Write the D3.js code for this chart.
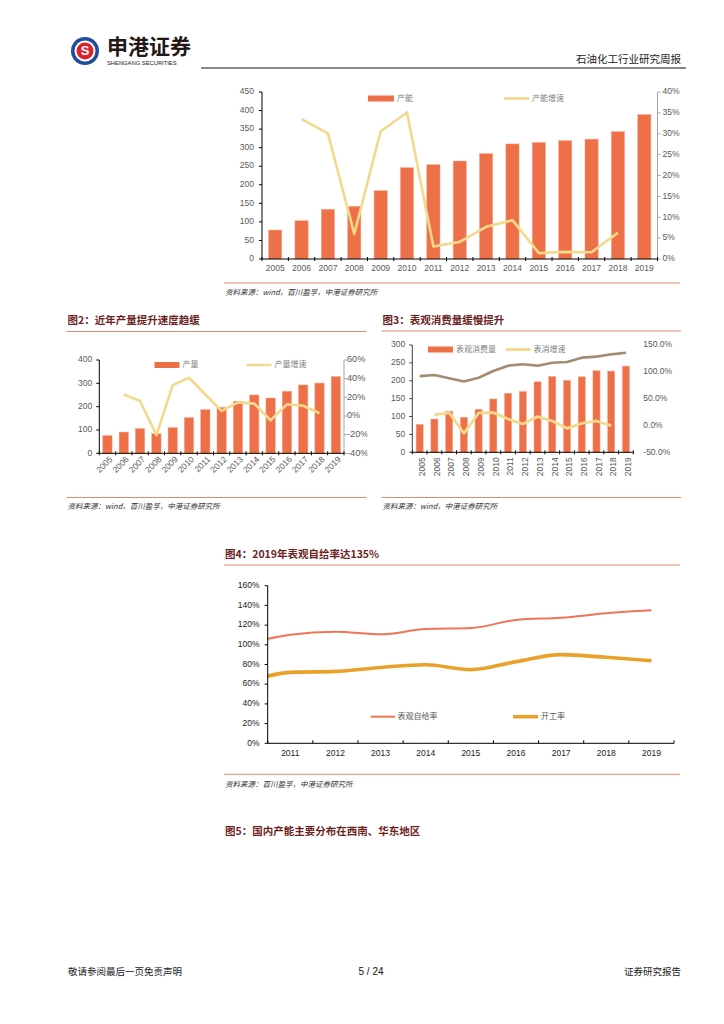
<!DOCTYPE html>
<html><head><meta charset="utf-8">
<script src="https://cdn.jsdelivr.net/npm/d3@7/dist/d3.min.js"></script>
<style>
html,body{margin:0;padding:0;background:#fff;}
svg{display:block;}
.num{font-family:"Liberation Sans",Arial,sans-serif;}
.cjk{font-family:"Noto Sans CJK SC","Noto Sans",sans-serif;}
</style></head>
<body>
<svg id="page" width="724" height="1024"></svg>
<script>
// ---------------- DATA ----------------
const years = ["2005","2006","2007","2008","2009","2010","2011","2012","2013","2014","2015","2016","2017","2018","2019"];
// Chart 1: capacity (万吨) and capacity growth (%)
const capacity = [78,103,134,142,184,246,254,264,284,310,314,319,323,343,389];
const capacityGrowth = [null,33.5,30.1,6.0,30.6,35.1,3.0,4.1,7.7,9.3,1.4,1.7,1.6,6.3,null];
// Chart 2: output and output growth (%)
const output = [76,91,106,84,110,153,187,197,223,250,237,266,293,301,329];
const outputGrowth = [null,23,16,-20.5,33,41,23,5.4,14.6,13.2,-4.6,12.5,11,2.9,null];
// Chart 3: apparent consumption, growth (%), self-sufficiency ratio (%)
const consumption = [78,93,115,98,120,149,165,170,197,212,201,211,228,227,241];
const consumptionGrowth = [null,19.6,23.9,-14.6,23.3,23.9,12.1,2.8,16.5,8.4,-5.3,4,8.4,-0.3,null];
const selfRatio = [92,94,88,82,89,101.6,111.5,114,111.5,117,118.3,126.4,128.3,132.6,135.7];
// Chart 4: (2010 point lies outside the left edge and is clipped)
const years4 = ["2010","2011","2012","2013","2014","2015","2016","2017","2018","2019"];
const selfSufficiency = [100.7,110.3,113.3,110.6,116,117,125.2,127.5,132,135];
const utilization = [61.2,72,73,77,79.8,74.8,82.9,90,87.3,83.9];
// Tick labels
const ticks1L = [0,50,100,150,200,250,300,350,400,450];
const ticks1R = [0,5,10,15,20,25,30,35,40];
const ticks2L = [0,100,200,300,400];
const ticks2R = [-40,-20,0,20,40,60];
const ticks3L = [0,50,100,150,200,250,300];
const ticks3R = [-50,0,50,100,150];
const ticks4 = [0,20,40,60,80,100,120,140,160];

// ---------------- STYLE ----------------
const BAR = "#EE7048", YEL = "#F2D98C", BROWN = "#A48C72";
const RED4 = "#F07455", GOLD4 = "#E9A129";
const TITLE = "#6E1F1F", SEP = "#DC8C74", LBL = "#595959";
const svg = d3.select("#page");
const defs = svg.append("defs");

function text(g, x, y, s, opts={}) {
  const t = g.append("text").attr("x", x).attr("y", y).text(s)
    .attr("class", opts.cls || "cjk")
    .attr("font-size", opts.size || 9)
    .attr("fill", opts.fill || "#000")
    .attr("text-anchor", opts.anchor || "start")
    .attr("dominant-baseline", opts.base || "middle");
  if (opts.weight) t.attr("font-weight", opts.weight);
  if (opts.style) t.attr("font-style", opts.style);
  if (opts.transform) t.attr("transform", opts.transform);
  if (opts.ls) t.attr("letter-spacing", opts.ls);
  return t;
}
function hline(g, x1, x2, y, color, w) {
  g.append("line").attr("x1", x1).attr("x2", x2).attr("y1", y).attr("y2", y)
    .attr("stroke", color).attr("stroke-width", w);
}

// ---------------- HEADER ----------------
const hdr = svg.append("g");
hdr.append("circle").attr("cx", 85).attr("cy", 51).attr("r", 14).attr("fill", "#1F4E9E");
hdr.append("circle").attr("cx", 85).attr("cy", 51).attr("r", 10.5).attr("fill", "#fff");
hdr.append("circle").attr("cx", 85).attr("cy", 51).attr("r", 8.5).attr("fill", "#D8232A");
text(hdr, 85, 52, "S", {cls:"num", size:13, weight:"bold", fill:"#fff", anchor:"middle"});
text(hdr, 107, 48, "申港证券", {size:21, weight:"bold", fill:"#231815"});
text(hdr, 107, 63.5, "SHENGANG SECURITIES", {cls:"num", size:5.8, fill:"#231815"});
text(hdr, 681, 60, "石油化工行业研究周报", {size:10.5, fill:"#222", anchor:"end"});
hline(hdr, 201, 686, 68, "#111", 1.2);

// ---------------- generic combo chart ----------------
function comboChart(cfg) {
  const g = svg.append("g");
  const clipId = "clip" + cfg.id;
  defs.append("clipPath").attr("id", clipId).append("rect")
    .attr("x", cfg.clip[0]).attr("y", cfg.clip[1]).attr("width", cfg.clip[2]).attr("height", cfg.clip[3]);
  g.attr("clip-path", `url(#${clipId})`);
  const x = d3.scaleBand().domain(years).range([cfg.x0, cfg.x1]).paddingInner(cfg.pad).paddingOuter(cfg.pad/2);
  const yL = d3.scaleLinear().domain(cfg.domL).range([cfg.yb, cfg.yt]);
  const yR = d3.scaleLinear().domain(cfg.domR).range([cfg.yb, cfg.yt]);
  // bars
  g.selectAll(".bar").data(cfg.bars).join("rect")
    .attr("x", (d,i) => x(years[i])).attr("width", x.bandwidth())
    .attr("y", d => yL(d)).attr("height", d => yL(0) - yL(d))
    .attr("fill", BAR).attr("stroke", "#F6A487").attr("stroke-width", 0.5);
  // lines
  cfg.lines.forEach(L => {
    const pts = L.data.map((v,i) => v == null ? null : [x(years[i]) + x.bandwidth()/2, yR(v)]).filter(p => p);
    g.append("path").attr("d", d3.line()(pts)).attr("fill", "none")
      .attr("stroke", L.color).attr("stroke-width", L.width).attr("stroke-linejoin", "round");
  });
  // left axis
  g.append("line").attr("x1", cfg.x0).attr("x2", cfg.x0).attr("y1", cfg.yt).attr("y2", cfg.yb)
    .attr("stroke", cfg.leftAxisColor || "#000").attr("stroke-width", 1);
  cfg.ticksL.forEach(t => {
    g.append("line").attr("x1", cfg.x0 - 3).attr("x2", cfg.x0).attr("y1", yL(t)).attr("y2", yL(t))
      .attr("stroke", cfg.leftAxisColor || "#000");
    text(g, cfg.x0 - cfg.lblGapL, yL(t), cfg.fmtL(t), {cls:"num", size:cfg.fs, fill:LBL, anchor:"end"});
  });
  // right axis
  if (cfg.rightAxis) {
    g.append("line").attr("x1", cfg.x1).attr("x2", cfg.x1).attr("y1", cfg.yt).attr("y2", cfg.yb)
      .attr("stroke", "#A6A6A6").attr("stroke-width", 1);
  }
  cfg.ticksR.forEach(t => {
    if (cfg.rightAxis) g.append("line").attr("x1", cfg.x1).attr("x2", cfg.x1 + 3).attr("y1", yR(t)).attr("y2", yR(t))
      .attr("stroke", "#A6A6A6");
    text(g, cfg.x1 + cfg.lblGapR, yR(t), cfg.fmtR(t), {cls:"num", size:cfg.fsR || cfg.fs, fill:LBL});
  });
  // x axis
  g.append("line").attr("x1", cfg.x0).attr("x2", cfg.x1).attr("y1", cfg.yb).attr("y2", cfg.yb)
    .attr("stroke", "#000").attr("stroke-width", 1);
  const step = x.step();
  d3.range(years.length + 1).forEach(i => {
    const xx = cfg.x0 + i * step;
    g.append("line").attr("x1", xx).attr("x2", xx).attr("y1", cfg.yb - 2).attr("y2", cfg.yb + 2).attr("stroke", "#000");
  });
  years.forEach(yr => {
    const cx = x(yr) + x.bandwidth()/2;
    if (cfg.rot === 0) {
      text(g, cx, cfg.yb + cfg.lblGapX, yr, {cls:"num", size:cfg.fs, fill:LBL, anchor:"middle"});
    } else {
      const ly = cfg.yb + cfg.lblGapX;
      text(g, cx + cfg.rotDx, ly, yr, {cls:"num", size:cfg.fs, fill:LBL, anchor:"end",
        transform:`rotate(${cfg.rot},${cx + cfg.rotDx},${ly})`});
    }
  });
  // legend
  cfg.legend.forEach(lg => {
    if (lg.type === "rect") {
      g.append("rect").attr("x", lg.x).attr("y", lg.y - 3).attr("width", lg.w).attr("height", 6).attr("fill", BAR);
    } else {
      g.append("line").attr("x1", lg.x).attr("x2", lg.x + lg.w).attr("y1", lg.y).attr("y2", lg.y)
        .attr("stroke", lg.color).attr("stroke-width", lg.lw);
    }
    text(g, lg.x + lg.w + 3, lg.y, lg.label, {size:8, fill:"#7F7F7F"});
  });
}

function titleBlock(x1, x2, yTitle, yLine, title) {
  text(svg, x1 + 1, yTitle, title, {size:10.5, weight:"bold", fill:TITLE});
  hline(svg, x1, x2, yLine, SEP, 1);
}
function sourceBlock(x1, x2, yLine, yText, s) {
  hline(svg, x1, x2, yLine, SEP, 1);
  text(svg, x1 + 1, yText, s, {size:7.5, fill:"#333", style:"italic"});
}

// ---------------- CHART 1 ----------------
comboChart({
  id:1, clip:[200,80,500,200],
  x0:262, x1:657.5, yt:92, yb:259, pad:0.5,
  domL:[0,450], domR:[0,40], bars:capacity,
  lines:[{data:capacityGrowth, color:YEL, width:2.6}],
  ticksL:ticks1L, ticksR:ticks1R, fmtL:d=>d, fmtR:d=>d+"%",
  lblGapL:8, lblGapR:5, rightAxis:true, fs:8.5,
  rot:0, lblGapX:10,
  legend:[{type:"rect", x:368, y:98.5, w:26, label:"产能"},
          {type:"line", x:504, y:98.5, w:25, color:YEL, lw:2.6, label:"产能增速"}]
});
sourceBlock(224, 680, 283, 293, "资料来源：wind，百川盈孚，中港证券研究所");

// ---------------- CHART 2 ----------------
titleBlock(66.5, 366.5, 321.5, 331.5, "图2：近年产量提升速度趋缓");
comboChart({
  id:2, clip:[60,340,307.5,140],
  x0:99.3, x1:344, yt:360, yb:453.3, pad:0.43,
  domL:[0,400], domR:[-40,60], bars:output,
  lines:[{data:outputGrowth, color:YEL, width:2.6}],
  ticksL:ticks2L, ticksR:ticks2R, fmtL:d=>d, fmtR:d=>d+"%",
  lblGapL:7, lblGapR:3, rightAxis:true, fs:8.5, fsR:9.2,
  rot:-45, lblGapX:5, rotDx:4,
  legend:[{type:"rect", x:154.5, y:365, w:25, label:"产量"},
          {type:"line", x:246.5, y:365, w:25, color:YEL, lw:2.6, label:"产量增速"}]
});
sourceBlock(66.5, 366.5, 497.5, 507, "资料来源：wind，百川盈孚，中港证券研究所");

// ---------------- CHART 3 ----------------
titleBlock(381.5, 681, 321.5, 331, "图3：表观消费量缓慢提升");
comboChart({
  id:3, clip:[375,335,320,150],
  x0:412.3, x1:633.3, yt:345, yb:452.3, pad:0.52,
  domL:[0,300], domR:[-50,150], bars:consumption,
  lines:[{data:selfRatio, color:BROWN, width:2.6},{data:consumptionGrowth, color:YEL, width:2.8}],
  ticksL:ticks3L, ticksR:ticks3R, fmtL:d=>d, fmtR:d=>d.toFixed(1)+"%",
  lblGapL:7, lblGapR:10, rightAxis:false, leftAxisColor:"#404040", fs:8.5,
  rot:-90, lblGapX:5, rotDx:3,
  legend:[{type:"rect", x:428, y:349.5, w:25, label:"表观消费量"},
          {type:"line", x:505.5, y:349.5, w:25, color:YEL, lw:2.8, label:"表消增速"}]
});
sourceBlock(381.5, 681, 497.5, 507, "资料来源：wind，中港证券研究所");

// ---------------- CHART 4 ----------------
titleBlock(224, 680, 555, 565, "图4：2019年表观自给率达135%");
(function(){
  const g = svg.append("g");
  const x0 = 267.7, x1 = 674, yt = 585.7, yb = 743.3;
  defs.append("clipPath").attr("id","clip4").append("rect").attr("x",x0).attr("y",yt-10).attr("width",x1-x0).attr("height",yb-yt+10);
  const x = d3.scaleLinear().domain([+years4[1]-0.5, +years4[years4.length-1]+0.5]).range([x0, x1]);
  const y = d3.scaleLinear().domain([0,160]).range([yb, yt]);
  const lineGen = d3.line().x((d,i)=>x(+years4[i])).y(d=>y(d)).curve(d3.curveMonotoneX);
  const lg = g.append("g").attr("clip-path","url(#clip4)");
  lg.append("path").attr("d", lineGen(utilization)).attr("fill","none").attr("stroke",GOLD4).attr("stroke-width",3.6);
  lg.append("path").attr("d", lineGen(selfSufficiency)).attr("fill","none").attr("stroke",RED4).attr("stroke-width",2);
  // y axis
  g.append("line").attr("x1",x0).attr("x2",x0).attr("y1",yt).attr("y2",yb).attr("stroke","#000");
  ticks4.forEach(t=>{
    g.append("line").attr("x1",x0-3).attr("x2",x0).attr("y1",y(t)).attr("y2",y(t)).attr("stroke","#000");
    text(g, 259.5, y(t), t+"%", {cls:"num", size:8.5, fill:"#222", anchor:"end"});
  });
  // x axis
  g.append("line").attr("x1",x0).attr("x2",x1).attr("y1",yb).attr("y2",yb).attr("stroke","#000");
  d3.range(+years4[1]-0.5, +years4[years4.length-1]+1, 1).forEach(v=>{
    g.append("line").attr("x1",x(v)).attr("x2",x(v)).attr("y1",yb-3).attr("y2",yb).attr("stroke","#000");
  });
  years4.slice(1).forEach(yr=>{
    text(g, x(+yr), 754, yr, {cls:"num", size:8.5, fill:"#222", anchor:"middle"});
  });
  // legend
  g.append("line").attr("x1",370.7).attr("x2",395).attr("y1",716.7).attr("y2",716.7).attr("stroke",RED4).attr("stroke-width",2);
  text(g, 397.5, 716.7, "表观自给率", {size:8, fill:"#555"});
  g.append("line").attr("x1",513).attr("x2",538).attr("y1",716.7).attr("y2",716.7).attr("stroke",GOLD4).attr("stroke-width",3.6);
  text(g, 541, 716.7, "开工率", {size:8, fill:"#555"});
})();
sourceBlock(224, 680, 774.3, 785, "资料来源：百川盈孚，中港证券研究所");

// ---------------- CHART 5 title ----------------
text(svg, 225, 832.5, "图5：国内产能主要分布在西南、华东地区", {size:10.5, weight:"bold", fill:TITLE});

// ---------------- FOOTER ----------------
text(svg, 68, 972, "敬请参阅最后一页免责声明", {size:9.5, fill:"#222"});
text(svg, 371, 972, "5 / 24", {cls:"num", size:10, fill:"#111", anchor:"middle"});
text(svg, 681, 972, "证券研究报告", {size:9.5, fill:"#222", anchor:"end"});
</script>
</body></html>
